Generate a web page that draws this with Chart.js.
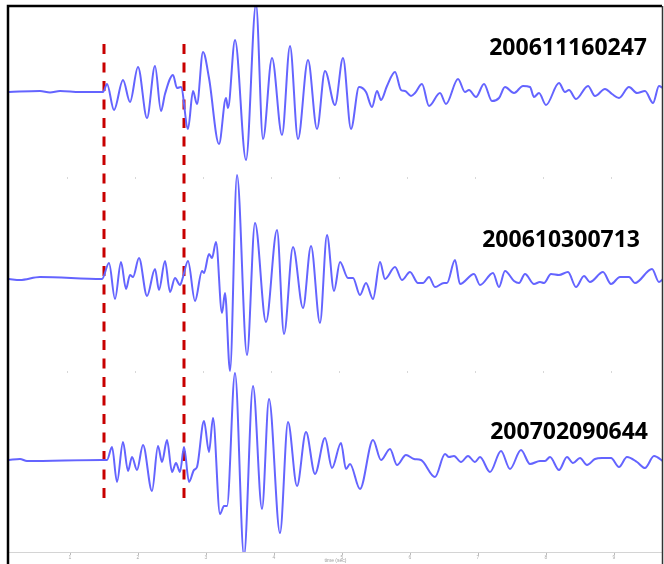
<!DOCTYPE html>
<html>
<head>
<meta charset="utf-8">
<script src="https://cdn.jsdelivr.net/npm/chart.js@4.4.1/dist/chart.umd.min.js"></script>
<style>
  html, body { margin: 0; padding: 0; background: #fff; }
  canvas { display: block; }
</style>
</head>
<body>
<canvas id="myChart" width="664" height="564"></canvas>
<script>
'use strict';

// event names, one per trace (top to bottom)
let events = ['200611160247', '200610300713', '200702090644'];

// time axis: samples, 68 samples per second
let sampleRate = 68;
let tickSeconds = [1, 2, 3, 4, 5, 6, 7, 8, 9];

// P and S picks (samples)
let pickSamples = [102, 182];

// trace baselines (counts)
let traceOffsets = [460, 273, 92];

// trace 1 : 200611160247
let trace1X = [7, 38, 48, 58, 78, 101, 105, 112, 121, 128, 136, 145, 153, 159, 163, 171, 175, 179, 186, 191,
    195, 201, 207, 217, 224, 226, 233, 244, 254, 261, 270, 280, 288, 296, 306, 315, 323, 333, 341, 349,
    357, 364, 370, 375, 379, 385, 393, 399, 403, 409, 413, 420, 427, 438, 444, 456, 463, 467, 474, 482,
    490, 497, 503, 512, 521, 528, 532, 537, 544, 557, 563, 567, 574, 586, 593, 603, 610, 617, 627, 635,
    643, 651, 657, 662];
let trace1Y = [0, 1, -0.5, 1, 0, 0, 8, -18, 12, -10, 25, -26, 26, -19, -2, 17, 4, 5, -37, 1,
    -12, 40, 14, -52, -6, -16, 52, -68, 88, -47, 34, -43, 46, -47, 32, -37, 21, -13, 34, -37,
    5, 0, -15, 1, -8, 6, 20, 2, 1, -4, -1, 8, -14, -1, -12, 13, 0, 2, -5, 8,
    -9, -6, 5, -1, 6, 5, -5, -1, -13, 9, 0, 2, -7, 6, -4, 3, -2, -6, 5, -1,
    1, -11, 6, 3];

// trace 2 : 200610300713
let trace2X = [7, 18, 38, 100, 107, 113, 119, 124, 128, 131, 137, 145, 153, 157, 163, 168, 173, 178, 181, 186,
    193, 200, 202, 207, 210, 214, 220, 223, 228, 235, 245, 253, 264, 275, 282, 291, 301, 309, 318, 325,
    332, 338, 346, 351, 358, 364, 371, 378, 383, 393, 400, 408, 416, 421, 427, 433, 442, 445, 453, 458,
    472, 478, 491, 497, 503, 512, 517, 523, 532, 538, 542, 549, 557, 566, 574, 582, 588, 601, 609, 618,
    627, 633, 650, 657, 662];
let trace2Y = [0, -1, 2, 0, 16, -20, 17, -10, 4, 2, 21, -17, 10, -11, 18, -13, 1, -6, 2, 18,
    -22, 8, 6, 25, 21, 37, -34, -14, -92, 104, -76, 56, -43, 49, -55, 32, -29, 33, -44, 44,
    -12, 17, 1, 1, -16, -4, -20, 17, 0, 12, -1, 7, -4, -4, 2, -8, -4, -4, 19, -5,
    5, -6, 6, -8, 8, -2, -4, 5, -5, -3, -4, 5, 4, 7, -8, 3, -3, 7, -5, 2,
    2, -4, 10, -3, 1];

// trace 3 : 200702090644
let trace3X = [7, 18, 25, 100, 105, 110, 115, 121, 126, 130, 135, 141, 150, 156, 160, 165, 170, 174, 178, 182,
    187, 192, 195, 202, 207, 211, 218, 222, 225, 233, 242, 251, 260, 267, 278, 286, 295, 304, 313, 323,
    330, 339, 344, 348, 358, 371, 379, 388, 395, 404, 412, 419, 433, 443, 447, 452, 459, 466, 473, 478,
    488, 499, 508, 519, 528, 538, 543, 548, 557, 565, 571, 578, 585, 593, 600, 609, 617, 625, 635, 643,
    652, 662];
let trace3Y = [0, 1, -1, 0, 0, 13, -22, 18, -11, 3, -10, 15, -31, 14, -2, 20, -12, -3, -12, 13,
    -22, -10, -7, 39, 8, 42, -54, -46, -46, 87, -96, 74, -49, 61, -73, 38, -26, 28, -14, 22,
    -8, 17, -9, -4, -29, 20, 0, 11, -5, 5, 1, 0, -17, 6, 3, 4, -2, 4, -2, 3,
    -12, 9, -9, 10, -4, -1, -1, 3, -10, 3, -3, 2, -5, 1, 2, 2, -7, 3, -2, -8,
    4, -2];

let traceX = [trace1X, trace2X, trace3X];
let traceY = [trace1Y, trace2Y, trace3Y];

function makeTrace(i) {
    let pts = [];
    for (let k = 0; k < traceX[i].length; k++) {
        pts.push({ x: traceX[i][k], y: traceOffsets[i] + traceY[i][k] });
    }
    return {
        label: events[i],
        data: pts,
        borderColor: '#6464ff',
        borderWidth: 2,
        pointRadius: 0,
        cubicInterpolationMode: 'monotone',
        fill: false
    };
}

function makePick(s) {
    return {
        label: 'pick',
        data: [{ x: s, y: 508 }, { x: s, y: 50 }],
        borderColor: '#c80000',
        borderWidth: 3,
        borderDash: [10, 8.5],
        pointRadius: 0,
        fill: false
    };
}

let datasets = [];
for (let i = 0; i < events.length; i++) {
    datasets.push(makeTrace(i));
}
for (let i = 0; i < pickSamples.length; i++) {
    datasets.push(makePick(pickSamples[i]));
}

// frame, faint panel ticks and event names
let extras = {
    id: 'extras',
    afterDraw(chart) {
        let ctx = chart.ctx;
        let area = chart.chartArea;
        let xs = chart.scales.x;
        ctx.save();

        // faint tick marks between panels
        ctx.strokeStyle = '#d8d8d8';
        ctx.lineWidth = 1;
        [178, 372].forEach(function (yy) {
            tickSeconds.forEach(function (s) {
                let px = Math.round(xs.getPixelForValue(s * sampleRate)) - 2.5;
                ctx.beginPath();
                ctx.moveTo(px, yy - 1);
                ctx.lineTo(px, yy + 1);
                ctx.stroke();
            });
        });

        // event names
        ctx.fillStyle = '#000';
        ctx.font = 'bold 23px "Open Sans"';
        ctx.textAlign = 'right';
        ctx.textBaseline = 'middle';
        let labelPos = [[647, 48], [640, 240], [648, 432]];
        for (let i = 0; i < events.length; i++) {
            ctx.fillText(events[i], labelPos[i][0], labelPos[i][1]);
        }

        // frame
        ctx.strokeStyle = '#000';
        ctx.lineWidth = 2.5;
        ctx.beginPath();
        ctx.moveTo(8, 564);
        ctx.lineTo(8, 6);
        ctx.lineTo(area.right, 6);
        ctx.stroke();
        ctx.strokeStyle = '#333';
        ctx.lineWidth = 1.5;
        ctx.beginPath();
        ctx.moveTo(662.5, 6);
        ctx.lineTo(662.5, 564);
        ctx.stroke();
        ctx.restore();
    }
};

let ctx = document.getElementById('myChart').getContext('2d');
let myChart = new Chart(ctx, {
    type: 'line',
    data: { datasets: datasets },
    options: {
        responsive: false,
        animation: false,
        devicePixelRatio: 1,
        layout: { padding: { left: 9, top: 7, right: 2, bottom: 0 } },
        plugins: {
            legend: { display: false },
            tooltip: { enabled: false }
        },
        scales: {
            x: {
                type: 'linear',
                min: 7,
                max: 660,
                afterFit: function (scale) { scale.height = 12; },
                afterBuildTicks: function (scale) {
                    scale.ticks = tickSeconds.map(function (s) { return { value: s * sampleRate }; });
                },
                ticks: {
                    autoSkip: false,
                    maxRotation: 0,
                    padding: 0,
                    color: '#aaa',
                    font: { size: 5 },
                    callback: function (v) { return String(v / sampleRate); }
                },
                grid: { drawOnChartArea: false, tickLength: 3, color: '#bbb' },
                border: { color: '#d4d4d4', width: 1 },
                title: {
                    display: true,
                    text: 'time (sec)',
                    color: '#999',
                    font: { size: 5 },
                    padding: 0
                }
            },
            y: {
                display: false,
                min: 0,
                max: 545
            }
        }
    },
    plugins: [extras]
});
</script>
</body>
</html>
